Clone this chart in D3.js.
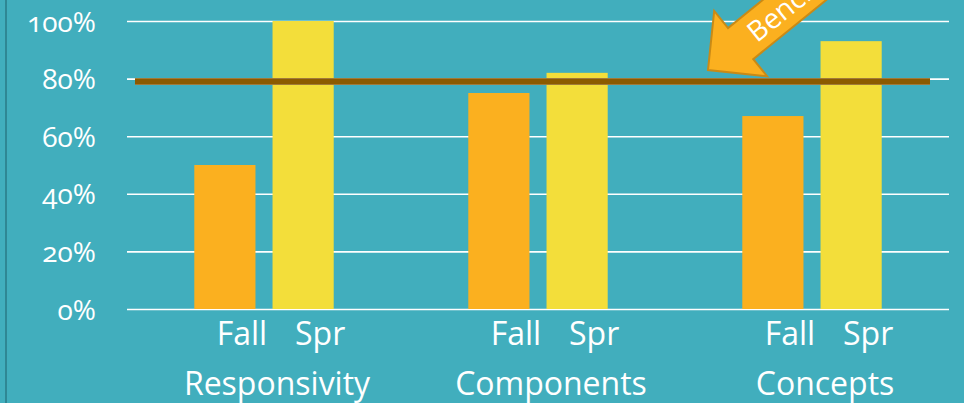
<!DOCTYPE html>
<html>
<head>
<meta charset="utf-8">
<script src="https://cdn.jsdelivr.net/npm/d3@7"></script>
<style>
  html, body { margin: 0; padding: 0; background: #41aebd; }
  svg { display: block; font-family: 'Open Sans', Lato, sans-serif; font-variant-numeric: oldstyle-nums; font-feature-settings: 'onum' 1; }
</style>
</head>
<body>
<div id="chart"></div>
<script>
'use strict';

const categories = ['Responsivity', 'Components', 'Concepts'];
const terms = ['Fall', 'Spr'];
const fallValues = [0.50, 0.75, 0.67];
const sprValues = [1.00, 0.82, 0.93];
const benchmark = 0.79;
const yTicks = [0, 0.2, 0.4, 0.6, 0.8, 1.0];

const colours = {
  bg: '#41aebd',
  border: '#2f8794',
  Fall: '#fbb01f',
  Spr: '#f3de3a',
  bench: '#8b5a00',
  arrow: '#fbb01f',
  arrowEdge: '#c98a16'
};

const config = { width: 964, height: 403 };
const margin = { top: 21, right: 15, bottom: 94, left: 127 };
const width = config.width - margin.left - margin.right;
const height = config.height - margin.top - margin.bottom;

const data = categories.map((c, i) => ({
  category: c,
  values: [
    { term: 'Fall', value: fallValues[i] },
    { term: 'Spr', value: sprValues[i] }
  ]
}));

const svg = d3.select('#chart').append('svg')
  .attr('width', config.width)
  .attr('height', config.height);

svg.append('rect')
  .attr('width', config.width).attr('height', config.height)
  .attr('fill', colours.bg);

// slide frame on the left
svg.append('line')
  .attr('x1', 6).attr('x2', 6).attr('y1', 0).attr('y2', config.height)
  .attr('stroke', colours.border).attr('stroke-width', 2);

const g = svg.append('g').attr('transform', `translate(${margin.left},${margin.top})`);

const x0 = d3.scaleBand().domain(categories).range([0, width]).padding(0);
const x1 = d3.scaleBand().domain(terms).range([0, x0.bandwidth()])
  .paddingInner(0.218).paddingOuter(0.86);
const y = d3.scaleLinear().domain([0, 1]).range([height, 0]);

// y axis with gridlines
const yAxis = g.append('g')
  .call(d3.axisLeft(y).tickValues(yTicks).tickSize(-width).tickFormat(d3.format('.0%')));
yAxis.select('.domain').remove();
yAxis.selectAll('.tick line').attr('stroke', '#fff').attr('stroke-width', 1.6);
yAxis.selectAll('.tick text')
  .attr('x', -31)
  .attr('dy', '0.36em')
  .attr('fill', '#fff')
  .style('font-family', "'Open Sans', sans-serif")
  .style('font-size', '28px');

// bars
const groups = g.selectAll('.cat').data(data).enter().append('g')
  .attr('class', 'cat')
  .attr('transform', d => `translate(${x0(d.category)},0)`);

groups.selectAll('rect').data(d => d.values).enter().append('rect')
  .attr('x', d => x1(d.term))
  .attr('y', d => y(d.value))
  .attr('width', x1.bandwidth())
  .attr('height', d => height - y(d.value))
  .attr('fill', d => colours[d.term]);

// term labels
groups.selectAll('.term').data(d => d.values).enter().append('text')
  .attr('class', 'term')
  .attr('x', d => x1(d.term) + x1.bandwidth() / 2 + 17)
  .attr('y', height + 36)
  .attr('text-anchor', 'middle')
  .attr('fill', '#fff')
  .style('font-size', '32px')
  .text(d => d.term);

// category labels
groups.append('text')
  .attr('x', x0.bandwidth() / 2 + 13)
  .attr('y', height + 86)
  .attr('text-anchor', 'middle')
  .attr('fill', '#fff')
  .style('font-size', '32px')
  .text(d => d.category);

// benchmark line
g.append('line')
  .attr('x1', 8).attr('x2', width - 19)
  .attr('y1', y(benchmark)).attr('y2', y(benchmark))
  .attr('stroke', '#a07a3a').attr('stroke-width', 7);
g.append('line')
  .attr('x1', 8).attr('x2', width - 19)
  .attr('y1', y(benchmark)).attr('y2', y(benchmark))
  .attr('stroke', colours.bench).attr('stroke-width', 5);

// benchmark callout arrow
const arrow = svg.append('g')
  .attr('transform', 'translate(708,70) rotate(-39)');
arrow.append('path')
  .attr('d', 'M0,0 L42,-42 L42,-20 L320,-20 L320,20 L42,20 L42,42 Z')
  .attr('fill', colours.arrow)
  .attr('stroke', colours.arrowEdge)
  .attr('stroke-width', 2)
  .attr('stroke-linejoin', 'miter');
arrow.append('text')
  .attr('x', 55)
  .attr('y', 0)
  .attr('dy', '0.36em')
  .attr('fill', '#fff')
  .style('font-size', '28px')
  .text('Benchmark');
</script>
</body>
</html>
